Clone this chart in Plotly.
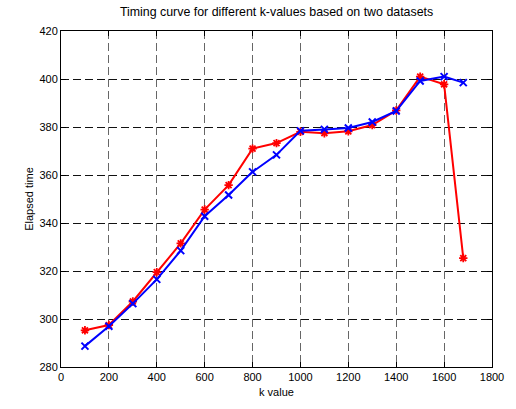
import plotly.graph_objects as go

k_values = [100, 200, 300, 400, 500, 600, 700, 800, 900, 1000, 1100, 1200, 1300, 1400, 1500, 1600, 1680]
red_times = [295.3, 297.5, 307.3, 319.5, 331.5, 345.6, 355.8, 371.0, 373.3, 378.0, 377.4, 378.2, 380.8, 386.9, 401.0, 397.8, 325.4]
blue_times = [288.7, 297.0, 306.4, 316.5, 328.5, 342.8, 351.7, 361.3, 368.4, 378.4, 379.0, 379.6, 382.1, 386.7, 399.2, 401.0, 398.5]

x_ticks = [0, 200, 400, 600, 800, 1000, 1200, 1400, 1600, 1800]
y_ticks = [280, 300, 320, 340, 360, 380, 400, 420]

font = "Liberation Sans, Arial, sans-serif"

fig = go.Figure()
fig.add_trace(go.Scatter(
    x=k_values, y=red_times, mode="lines+markers",
    line=dict(color="#ff0000", width=2),
    marker=dict(symbol="asterisk-open", size=7, color="#ff0000",
                line=dict(color="#ff0000", width=1.8)),
    showlegend=False))
fig.add_trace(go.Scatter(
    x=k_values, y=blue_times, mode="lines+markers",
    line=dict(color="#0000ff", width=2),
    marker=dict(symbol="x-thin-open", size=7, color="#0000ff",
                line=dict(color="#0000ff", width=2)),
    showlegend=False))

fig.update_layout(
    width=516, height=409,
    margin=dict(l=61, r=21, t=31, b=37),
    paper_bgcolor="white", plot_bgcolor="white",
    font=dict(family=font, size=11, color="black"),
    title=dict(text="Timing curve for different k-values based on two datasets",
               x=0.536, xanchor="center", y=0.972, yanchor="middle",
               font=dict(family=font, size=12.4, color="black")),
    xaxis=dict(range=[0, 1800], tickvals=x_ticks, ticks="inside", ticklen=5,
               tickcolor="black", showline=True, linecolor="black", linewidth=1,
               mirror="ticks", showgrid=True, gridcolor="#666666", griddash="8px,4px",
               gridwidth=1, zeroline=False,
               title=dict(text="k value", standoff=6, font=dict(size=11))),
    yaxis=dict(range=[280, 420], tickvals=y_ticks, ticks="inside", ticklen=5,
               tickcolor="black", showline=True, linecolor="black", linewidth=1,
               mirror="ticks", showgrid=True, gridcolor="#111111", griddash="8px,4px",
               gridwidth=1, zeroline=False,
               title=dict(text="Elapsed time", standoff=3, font=dict(size=11))),
)

fig.write_html("out.html", config={"displayModeBar": False},
               post_script="document.body.style.margin='0';")
